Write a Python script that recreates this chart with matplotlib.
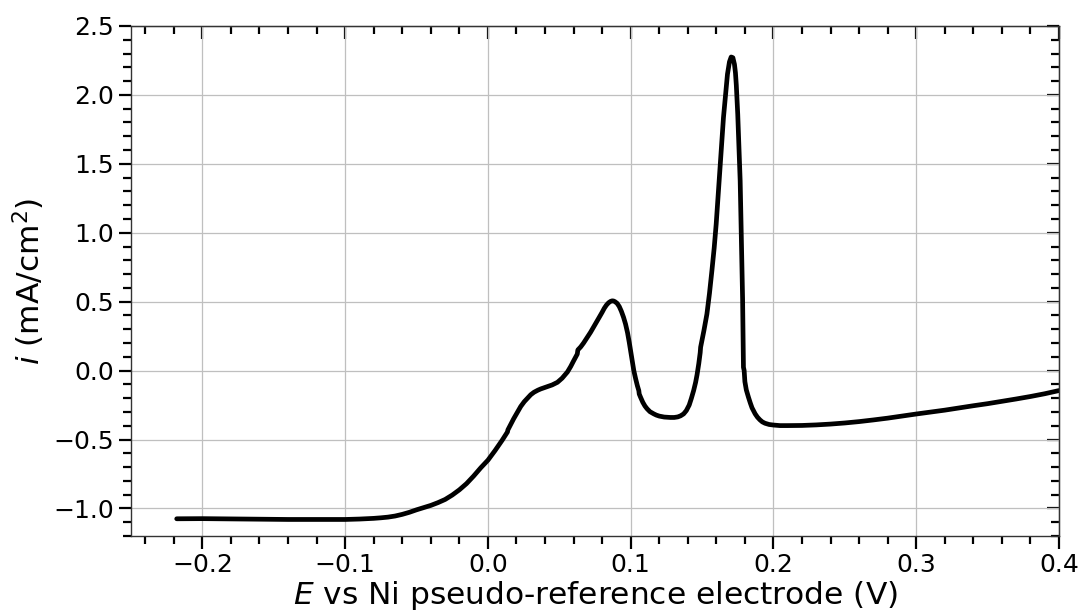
import matplotlib
matplotlib.use("Agg")
import matplotlib.pyplot as plt
from matplotlib.ticker import MultipleLocator

# Linear sweep: potential (V vs Ni pseudo-reference) and current density (mA/cm^2)
potential = [
    -0.218, -0.200, -0.180, -0.160, -0.140, -0.120, -0.100, -0.090, -0.080,
    -0.075, -0.070, -0.065, -0.060, -0.055, -0.050, -0.045, -0.040, -0.035,
    -0.030, -0.025, -0.020, -0.015, -0.010, -0.005,
    0.000, 0.005, 0.010, 0.0137, 0.014, 0.018, 0.023, 0.0255, 0.028, 0.030,
    0.0323, 0.035, 0.037, 0.0395, 0.0417, 0.045, 0.0487, 0.052, 0.0557, 0.058,
    0.060, 0.0626, 0.063, 0.065, 0.067, 0.0695, 0.0719, 0.074, 0.076, 0.078,
    0.080, 0.0815, 0.083, 0.0845, 0.0859, 0.087, 0.088, 0.089, 0.0905, 0.092,
    0.0935, 0.095, 0.0964, 0.0978, 0.099, 0.100, 0.101, 0.1022, 0.1035, 0.1047,
    0.1057, 0.106, 0.107, 0.1085, 0.110, 0.1115, 0.1135, 0.1162, 0.118, 0.120,
    0.1235, 0.1278, 0.1305, 0.133, 0.135, 0.1371, 0.139, 0.141, 0.1425, 0.1441,
    0.1455, 0.1465, 0.1477, 0.1487, 0.149, 0.1513, 0.1534, 0.1552, 0.1569,
    0.1585, 0.1599, 0.1613, 0.1627, 0.1639, 0.165, 0.1665, 0.1678, 0.1692,
    0.1704, 0.1716, 0.1727, 0.1734, 0.174, 0.1745, 0.175, 0.1758, 0.1767,
    0.1773, 0.1779, 0.1784, 0.1787, 0.179, 0.1795, 0.180, 0.181, 0.1825,
    0.1838, 0.185, 0.1872, 0.1888, 0.1905, 0.1922, 0.1941, 0.197, 0.200, 0.2046,
    0.210, 0.220, 0.230, 0.240, 0.250, 0.260, 0.270, 0.280, 0.290, 0.300,
    0.310, 0.320, 0.330, 0.340, 0.350, 0.360, 0.370, 0.380, 0.390, 0.400,
]
current = [
    -1.075, -1.074, -1.076, -1.078, -1.080, -1.080, -1.080, -1.077, -1.072,
    -1.068, -1.063, -1.055, -1.043, -1.028, -1.010, -0.994, -0.978, -0.958,
    -0.935, -0.903, -0.865, -0.820, -0.765, -0.705,
    -0.650, -0.580, -0.505, -0.445, -0.430, -0.350, -0.260, -0.225, -0.197, -0.175,
    -0.157, -0.142, -0.133, -0.124, -0.116, -0.104, -0.085, -0.055, -0.010, 0.030,
    0.070, 0.120, 0.150, 0.172, 0.200, 0.240, 0.278, 0.315, 0.350, 0.387,
    0.423, 0.452, 0.475, 0.492, 0.502, 0.506, 0.505, 0.500, 0.488, 0.465,
    0.430, 0.387, 0.338, 0.275, 0.205, 0.140, 0.072, 0.000, -0.060, -0.110,
    -0.145, -0.170, -0.195, -0.230, -0.257, -0.277, -0.298, -0.314, -0.323, -0.330,
    -0.337, -0.340, -0.340, -0.336, -0.328, -0.314, -0.290, -0.250, -0.202, -0.145,
    -0.085, -0.030, 0.050, 0.130, 0.170, 0.290, 0.410, 0.560, 0.725,
    0.890, 1.063, 1.275, 1.498, 1.680, 1.836, 2.000, 2.150, 2.240,
    2.275, 2.270, 2.222, 2.160, 2.070, 1.970, 1.860, 1.630, 1.377,
    1.080, 0.773, 0.520, 0.300, 0.024, 0.000, -0.080, -0.140, -0.193,
    -0.235, -0.270, -0.314, -0.338, -0.357, -0.372, -0.382, -0.391, -0.395, -0.399,
    -0.399, -0.398, -0.394, -0.388, -0.380, -0.370, -0.358, -0.345, -0.330, -0.315,
    -0.301, -0.287, -0.271, -0.255, -0.240, -0.223, -0.206, -0.188, -0.168, -0.145,
]

fig = plt.figure(figsize=(10.81, 6.10), dpi=100)
ax = fig.add_axes([0.1212, 0.1213, 0.8584, 0.8361])

ax.plot(potential, current, color="black", lw=3.4, solid_capstyle="round",
        solid_joinstyle="round")

ax.set_xlim(-0.25, 0.4)
ax.set_ylim(-1.2, 2.5)
ax.xaxis.set_major_locator(MultipleLocator(0.1))
ax.xaxis.set_minor_locator(MultipleLocator(0.02))
ax.yaxis.set_major_locator(MultipleLocator(0.5))
ax.yaxis.set_minor_locator(MultipleLocator(0.1))

ax.grid(True, which="major", color="#bfbfbf", lw=0.9)
ax.set_axisbelow(True)

ax.tick_params(which="both", direction="out", top=False, right=False,
               labelsize=18, width=1.6)
ax.tick_params(which="major", length=9)
ax.tick_params(which="minor", length=5.5)

# inward ticks along the top and right edges
sec_x = ax.secondary_xaxis("top")
sec_x.xaxis.set_major_locator(MultipleLocator(0.1))
sec_x.xaxis.set_minor_locator(MultipleLocator(0.02))
sec_x.tick_params(which="both", direction="in", labeltop=False, width=1.6)
sec_x.tick_params(which="major", length=9)
sec_x.tick_params(which="minor", length=5.5)
sec_y = ax.secondary_yaxis("right")
sec_y.yaxis.set_major_locator(MultipleLocator(0.5))
sec_y.yaxis.set_minor_locator(MultipleLocator(0.1))
sec_y.tick_params(which="both", direction="in", labelright=False, width=1.6)
sec_y.tick_params(which="major", length=9)
sec_y.tick_params(which="minor", length=5.5)

for sp in ax.spines.values():
    sp.set_linewidth(1.0)
    sp.set_color("#333333")

ax.set_xlabel(r"$E$ vs Ni pseudo-reference electrode (V)", fontsize=22.5, labelpad=1)
ax.set_ylabel(r"$i$ (mA/cm$^2$)", fontsize=22.5, labelpad=4)

fig.savefig("out.png", dpi=100)
